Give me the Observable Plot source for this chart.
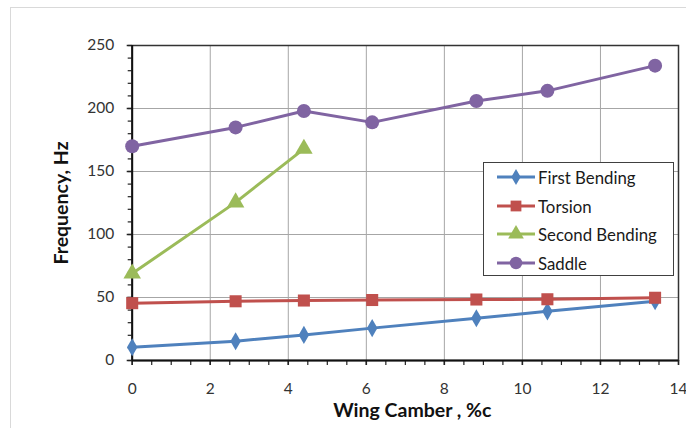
<!DOCTYPE html>
<html><head><meta charset="utf-8">
<script src="https://cdn.jsdelivr.net/npm/d3@7"></script>
<script src="https://cdn.jsdelivr.net/npm/@observablehq/plot@0.6"></script>
<style>
body{margin:0;background:#fff;}
#wrap{position:relative;width:686px;height:428px;overflow:hidden;font-family:Lato, "Open Sans", sans-serif;}
#border{position:absolute;left:10px;top:7px;width:700px;height:440px;border:1px solid #d9d9d9;}
#chart{position:absolute;left:0;top:0;}
#legend{position:absolute;left:483px;top:162px;width:189px;height:112px;border:1px solid #404040;background:#fff;}
.row{position:absolute;left:0;height:20px;display:flex;align-items:center;font-size:16.8px;color:#1a1a1a;}
.row svg{margin-left:13px;margin-right:3px;}
</style></head><body><div id="wrap"><div id="border"></div><div id="chart"></div><div id="legend"></div></div>
<script>
const camber = [0, 2.65, 4.4, 6.15, 8.82, 10.64, 13.4];
const firstBending = [10.5, 15.3, 20.3, 25.7, 33.5, 39, 47];
const torsion = [45.5, 47, 47.6, 48, 48.4, 48.6, 49.8];
const secondBending = [69, 125.5, 168];
const saddle = [170, 185, 198, 189, 206, 214, 234];
const seriesNames = ["First Bending", "Torsion", "Second Bending", "Saddle"];
const seriesColors = ["#4F81BD", "#C0504D", "#9BBB59", "#8064A2"];
const seriesSymbols = ["diamond", "square", "triangle", "circle"];
const xTicks = [0, 2, 4, 6, 8, 10, 12, 14];
const yTicks = [0, 50, 100, 150, 200, 250];
const xLabel = "Wing Camber , %c";
const yLabel = "Frequency, Hz";

const seriesValues = [firstBending, torsion, secondBending, saddle];
const data = seriesValues.flatMap((vals, i) => vals.map((v, j) => ({series: seriesNames[i], x: camber[j], y: v})));
const xMinor = d3.range(0, 14.001, 0.5);
const yMinor = d3.range(0, 250.001, 10);
const dotR = [5.5, 6.8, 6.5, 7];

const marks = [
  Plot.gridX(xTicks.slice(1, -1), {stroke: "#a6a6a6", strokeOpacity: 1, strokeWidth: 1}),
  Plot.gridY(yTicks.slice(1, -1), {stroke: "#a6a6a6", strokeOpacity: 1, strokeWidth: 1}),
  Plot.frame({stroke: "#333", strokeWidth: 1.5}),
  Plot.axisX(xMinor, {tickSize: 5, text: null, label: null, stroke: "#222", strokeWidth: 1.2}),
  Plot.axisY(yMinor, {tickSize: 4, text: null, label: null, stroke: "#222", strokeWidth: 1.2}),
  Plot.axisX(xTicks, {tickSize: 5, tickPadding: 17, fontSize: 15.5, fill: "#333", label: null, stroke: "#222", strokeWidth: 1.5}),
  Plot.axisY(yTicks, {tickSize: 5, tickPadding: 13, fontSize: 15.5, fill: "#333", label: null, stroke: "#222", strokeWidth: 1.5}),
  Plot.ruleX([0], {stroke: "#111", strokeWidth: 2}),
  Plot.ruleY([0], {stroke: "#111", strokeWidth: 2}),
  Plot.line(data, {x: "x", y: "y", z: "series", stroke: "series", strokeWidth: 3}),
  ...seriesNames.map((s, i) => Plot.dot(data.filter(d => d.series === s), {x: "x", y: "y", symbol: "series", fill: "series", r: dotR[i]})),
  Plot.text([xLabel], {frameAnchor: "bottom", dx: 7, dy: 50, lineAnchor: "middle", textAnchor: "middle", fontSize: 19.5, fontWeight: "bold", fill: "#111"}),
  Plot.text([yLabel], {frameAnchor: "left", rotate: -90, dx: -70, textAnchor: "middle", lineAnchor: "middle", fontSize: 19.5, fontWeight: "bold", fill: "#111"})
];

const chart = Plot.plot({
  width: 686, height: 428,
  marginLeft: 131.7, marginRight: 8, marginTop: 45, marginBottom: 68,
  style: {fontFamily: "Lato, 'Open Sans', sans-serif", background: "transparent"},
  x: {domain: [0, 14], axis: null},
  y: {domain: [0, 250], axis: null},
  color: {domain: seriesNames, range: seriesColors},
  symbol: {domain: seriesNames, range: seriesSymbols},
  marks
});
document.getElementById("chart").appendChild(chart);

const legend = document.getElementById("legend");
const rowTops = [4, 33, 61, 90];
seriesNames.forEach((s, i) => {
  const row = document.createElement("div");
  row.className = "row";
  row.style.top = rowTops[i] + "px";
  const sym = d3.symbol(d3["symbol" + seriesSymbols[i][0].toUpperCase() + seriesSymbols[i].slice(1)], Math.PI * dotR[i] * dotR[i] * 0.8)();
  row.innerHTML = `<svg width="38" height="20"><line x1="0" y1="10" x2="38" y2="10" stroke="${seriesColors[i]}" stroke-width="3"/><path d="${sym}" transform="translate(19,10)" fill="${seriesColors[i]}"/></svg><span>${s}</span>`;
  legend.appendChild(row);
});
</script>
</body></html>
